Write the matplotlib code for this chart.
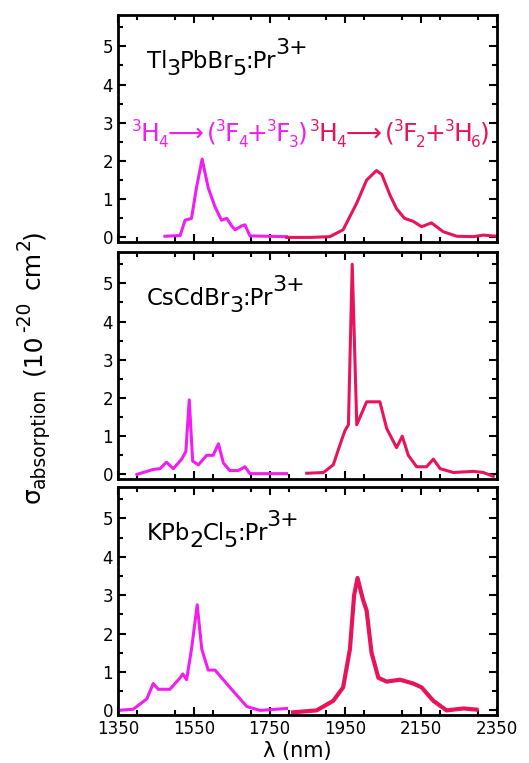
import matplotlib
matplotlib.use("Agg")
import matplotlib.pyplot as plt
from matplotlib.ticker import MultipleLocator

plt.rcParams['font.family'] = ['DejaVu Sans']

MAGENTA = '#f01ef0'
CRIMSON = '#e8145a'

# text pieces: (text, kind) with kind 0 normal, -1 subscript, 1 superscript
label_tl = [("Tl", 0), ("3", -1), ("PbBr", 0), ("5", -1), (":Pr", 0), ("3+", 1)]
label_cs = [("CsCdBr", 0), ("3", -1), (":Pr", 0), ("3+", 1)]
label_kp = [("KPb", 0), ("2", -1), ("Cl", 0), ("5", -1), (":Pr", 0), ("3+", 1)]
trans_1 = [("3", 1), ("H", 0), ("4", -1), ("\u27f6", 0), ("(", 0), ("3", 1), ("F", 0), ("4", -1),
           ("+", 0), ("3", 1), ("F", 0), ("3", -1), (")", 0)]
trans_2 = [("3", 1), ("H", 0), ("4", -1), ("\u27f6", 0), ("(", 0), ("3", 1), ("F", 0), ("2", -1),
           ("+", 0), ("3", 1), ("H", 0), ("6", -1), (")", 0)]
ylabel_parts = [("\u03c3", 0), ("absorption", -1), ("(10", 0), ("-20", 1), ("cm", 0), ("2", 1), (")", 0)]

# Panel 1: Tl3PbBr5
tl_mag_x = [1474, 1514, 1527, 1544, 1557, 1572, 1588, 1606, 1623, 1637, 1650, 1659, 1676, 1685, 1698, 1740, 1795]
tl_mag_y = [0.03, 0.05, 0.45, 0.5, 1.3, 2.05, 1.3, 0.8, 0.45, 0.5, 0.3, 0.2, 0.3, 0.33, 0.04, 0.03, 0.02]
tl_cri_x = [1795, 1860, 1909, 1944, 1980, 2006, 2032, 2046, 2068, 2085, 2106, 2129, 2151, 2177, 2208, 2244, 2288, 2314, 2350]
tl_cri_y = [0.0, 0.0, 0.02, 0.2, 0.9, 1.5, 1.75, 1.65, 1.1, 0.75, 0.5, 0.42, 0.28, 0.38, 0.15, 0.03, 0.02, 0.06, 0.03]

# Panel 2: CsCdBr3
cs_mag_x = [1400, 1443, 1461, 1478, 1496, 1518, 1529, 1538, 1547, 1562, 1584, 1601, 1615, 1628, 1645, 1667, 1685, 1698, 1795]
cs_mag_y = [0.0, 0.13, 0.15, 0.32, 0.15, 0.4, 0.6, 1.95, 0.35, 0.25, 0.5, 0.5, 0.8, 0.3, 0.1, 0.1, 0.2, 0.02, 0.02]
cs_cri_x = [1848, 1892, 1918, 1940, 1949, 1958, 1968, 1980, 1993, 2006, 2041, 2059, 2085, 2100, 2116, 2138, 2164, 2182, 2200, 2235, 2288, 2314, 2340]
cs_cri_y = [0.03, 0.05, 0.25, 0.9, 1.15, 1.3, 5.5, 1.3, 1.6, 1.9, 1.9, 1.2, 0.7, 1.0, 0.5, 0.2, 0.2, 0.4, 0.15, 0.05, 0.08, 0.05, -0.05]

# Panel 3: KPb2Cl5
kp_mag_x = [1350, 1390, 1426, 1443, 1456, 1487, 1514, 1521, 1531, 1544, 1559, 1571, 1588, 1606, 1619, 1654, 1690, 1725, 1795]
kp_mag_y = [0.0, 0.03, 0.3, 0.7, 0.55, 0.55, 0.85, 0.95, 0.8, 1.6, 2.75, 1.6, 1.05, 1.05, 0.9, 0.5, 0.1, 0.0, 0.05]
kp_cri_x = [1812, 1874, 1918, 1944, 1962, 1973, 1982, 1996, 2006, 2019, 2037, 2059, 2094, 2129, 2151, 2182, 2217, 2261, 2296]
kp_cri_y = [-0.05, 0.0, 0.25, 0.6, 1.6, 3.0, 3.45, 2.9, 2.6, 1.5, 0.85, 0.75, 0.8, 0.7, 0.6, 0.25, 0.0, 0.05, 0.02]

panels = [
    (tl_mag_x, tl_mag_y, tl_cri_x, tl_cri_y, 2.2, label_tl),
    (cs_mag_x, cs_mag_y, cs_cri_x, cs_cri_y, 2.2, label_cs),
    (kp_mag_x, kp_mag_y, kp_cri_x, kp_cri_y, 3.0, label_kp),
]

W, H = 529, 763
fig = plt.figure(figsize=(W / 100, H / 100), dpi=100)
renderer = fig.canvas.get_renderer()


def rich(x, y, parts, base, small, sub_dy, sup_dy, color='black', rot=0, gaps=None, adjust=-1.0):
    """Draw text pieces in sequence; x, y = baseline start in pixels from the top-left corner."""
    pos = 0.0
    for k, (s, kind) in enumerate(parts):
        size = base if kind == 0 else small
        shift = 0 if kind == 0 else (sub_dy if kind < 0 else sup_dy)
        if rot == 0:
            t = fig.text((x + pos) / W, 1 - (y - shift) / H, s, fontsize=size, color=color,
                         ha='left', va='baseline')
            pos += t.get_window_extent(renderer).width
        else:
            t = fig.text((x - shift) / W, 1 - (y - pos) / H, s, fontsize=size, color=color,
                         ha='left', va='baseline', rotation=90, rotation_mode='anchor')
            pos += t.get_window_extent(renderer).height
        pos += adjust
        if gaps and k in gaps:
            pos += gaps[k]


left, right = 118, 497
tops = [15, 252, 487]
bottoms = [242, 479, 715]

for i, (mx, my, cx, cy, lw, lab) in enumerate(panels):
    ax = fig.add_axes([left / W, 1 - bottoms[i] / H, (right - left) / W, (bottoms[i] - tops[i]) / H])
    ax.plot(mx, my, color=MAGENTA, lw=2.2, solid_joinstyle='round')
    ax.plot(cx, cy, color=CRIMSON, lw=lw, solid_joinstyle='round')
    ax.set_xlim(1350, 2350)
    ax.set_ylim(-0.12, 5.82)
    ax.set_xticks([1350, 1550, 1750, 1950, 2150, 2350])
    ax.xaxis.set_minor_locator(MultipleLocator(100))
    ax.yaxis.set_major_locator(MultipleLocator(1))
    ax.yaxis.set_minor_locator(MultipleLocator(0.5))
    ax.tick_params(which='both', direction='in', top=True, right=True, width=1.5, labelsize=12)
    ax.tick_params(which='major', length=6)
    ax.tick_params(which='minor', length=3.5)
    for s in ax.spines.values():
        s.set_linewidth(2)
    if i < 2:
        ax.tick_params(labelbottom=False)
    rich(147, tops[i] + 53, lab, 16.5, 16, -7, 14, adjust=-1.0)

# transitions
rich(132, 141, trans_1, 18, 11, -6, 10, color=MAGENTA, gaps={3: 5})
rich(310, 141, trans_2, 18, 11, -6, 10, color=CRIMSON, gaps={3: 5})

# y label (rotated)
rich(40, 503, ylabel_parts, 18, 13.5, -5, 10, rot=90, gaps={1: 14, 2: 2, 3: 14, 4: 2}, adjust=-1.0)

# x label
fig.text(297 / W, 1 - 751 / H, '\u03bb (nm)', fontsize=15, ha='center', va='center')

fig.savefig('out.png', dpi=100, facecolor='white')
